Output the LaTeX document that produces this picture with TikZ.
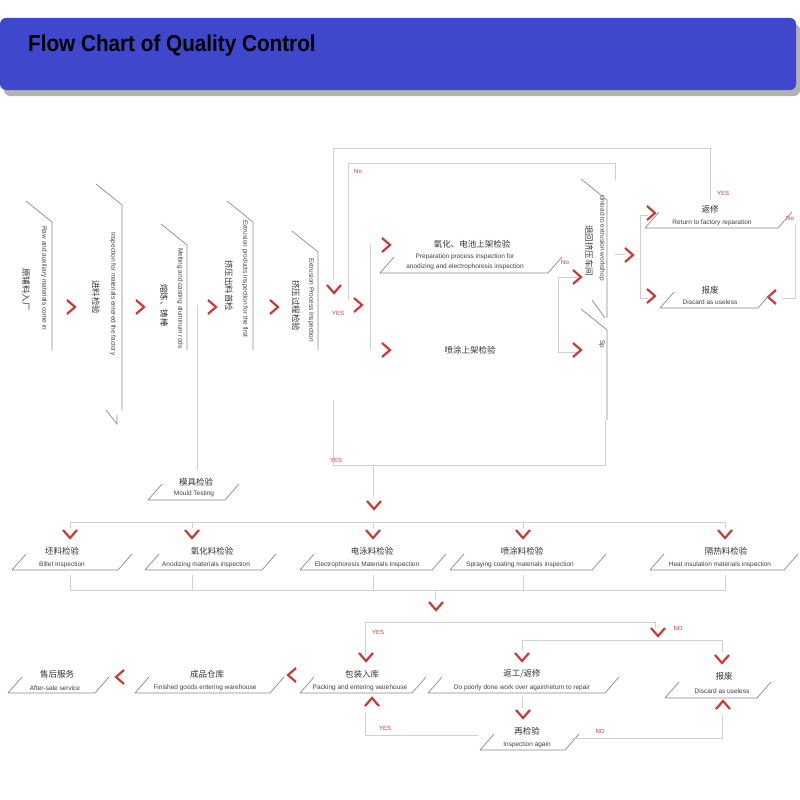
\documentclass[tikz,border=0pt]{standalone}
\usepackage{fontspec}
\setmainfont{Liberation Sans}
\newfontfamily\cjk{Noto Sans CJK SC}
\definecolor{hdr}{HTML}{3F48CC}
\definecolor{rd}{HTML}{C73B3B}
\definecolor{gl}{HTML}{D0D0D0}
\definecolor{bl}{HTML}{8A8A8A}
\begin{document}
\begin{tikzpicture}[x=1pt,y=-1pt,
  flow/.style={gl,line width=0.8pt},
  edge/.style={bl,line width=0.7pt},
  en/.style={font=\fontsize{6.5}{7}\selectfont,text=black!75,inner sep=0pt},
  cn/.style={font=\cjk\fontsize{8.5}{9}\selectfont,text=black!80,inner sep=0pt},
  lab/.style={font=\fontsize{6}{6}\selectfont,text=rd,inner sep=0pt},
  chev/.style={rd,line width=2.2pt}]
\newcommand{\cR}[2]{\draw[chev] (#1-4,#2-7) -- (#1+4,#2) -- (#1-4,#2+7);}
\newcommand{\cL}[2]{\draw[chev] (#1+4,#2-7) -- (#1-4,#2) -- (#1+4,#2+7);}
\newcommand{\cD}[2]{\draw[chev] (#1-7,#2-4) -- (#1,#2+4) -- (#1+7,#2-4);}
\newcommand{\cU}[2]{\draw[chev] (#1-7,#2+4) -- (#1,#2-4) -- (#1+7,#2+4);}
\newcommand{\pg}[3]{\draw[edge] (#1,#3) -- (#1+14,#3-16) (#1,#3) -- (#2,#3) -- (#2+14,#3-16);}
\newcommand{\vb}[3]{\draw[edge] (#1-26,#2-21) -- (#1,#2) -- (#1,#3);}
\useasboundingbox (0,0) rectangle (800,800);
\fill[white] (0,0) rectangle (800,800);
% header
\fill[gray!60,rounded corners=6pt] (4,24) rectangle (800,96);
\fill[hdr,rounded corners=6pt] (0,18) rectangle (796,90);
\node[anchor=west,font=\bfseries\fontsize{23}{24}\selectfont,inner sep=0pt,xscale=0.9] (title) at (28,46) {Flow Chart of Quality Control};
% vertical boxes
\vb{52}{222}{350}
\node[en,rotate=-90,anchor=west] (v1e) at (44,226) {Raw and auxiliary materials come in};
\node[cn,rotate=-90,anchor=west] (v1c) at (26,268) {原辅料入厂};
\vb{122}{205}{410}\draw[edge] (106,410) -- (117,424) -- (117,415);
\node[en,rotate=-90,anchor=west] (v2e) at (113,232) {Inspection for materials entered the factory};
\node[cn,rotate=-90,anchor=west] (v2c) at (96,280) {进料检验};
\vb{187}{245}{350}
\node[en,rotate=-90,anchor=west] (v3e) at (180,248) {Melting and casting aluminum rods};
\node[cn,rotate=-90,anchor=west] (v3c) at (164,284) {熔炼、铸棒};
\vb{253}{222}{350}
\node[en,rotate=-90,anchor=west] (v4e) at (245,220) {Extrusion products inspection for the first};
\node[cn,rotate=-90,anchor=west] (v4c) at (229,260) {挤压出料首检};
\vb{318}{252}{350}
\node[en,rotate=-90,anchor=west] (v5e) at (311,258) {Extrusion Process Inspection};
\node[cn,rotate=-90,anchor=west] (v5c) at (296,280) {挤压过程检验};
\cR{71}{307}\cR{140}{307}\cR{212}{307}\cR{274}{307}
% mould
\draw[flow] (197,305) -- (197,470);
\node[cn] (mc) at (196,482) {模具检验};
\node[en] (me) at (194,494) {Mould Testing};
\pg{148}{225}{500}
% loops
\draw[flow] (333,280) -- (333,148) -- (710,148) -- (710,200);
\draw[flow] (348,300) -- (348,163) -- (615,163) -- (615,180);
\node[lab] (no1) at (358,171) {No};
\node[lab] (yes1) at (723,193) {YES};
\cD{334}{289}\node[lab] (yes2) at (338,313) {YES};\cR{358}{305}
\draw[flow] (370,245) -- (370,350);
\cR{386}{245}\cR{386}{350}
\node[cn] (pc) at (472,244) {氧化、电池上架检验};
\node[en] (pe1) at (465,257) {Preparation process inspection for};
\node[en] (pe2) at (465,267) {anodizing and electrophoresis inspection};
\pg{380}{548}{273}
\node[cn] (sc) at (470,350) {喷涂上架检验};
\node[lab] (no2) at (565,262) {No};
\draw[flow] (558,277) -- (578,277) (558,277) -- (558,352) -- (578,352);
\cR{577}{277}\cR{577}{350}
\vb{607}{200}{318}\draw[edge] (592,300) -- (605,318);
\node[en,rotate=-90,anchor=west] (v6e) at (602,195) {Unload to extrusion workshop};
\node[cn,rotate=-90,anchor=west] (v6c) at (589,225) {退回挤压车间};
\vb{607}{330}{420}
\node[en,rotate=-90,anchor=west] (v7e) at (602,340) {Sp};
\draw[flow] (333,400) -- (333,465) -- (605,465) -- (605,420);
\node[lab] (yes3) at (336,460) {YES};
\draw[flow] (373,465) -- (373,497);
\cD{374}{505}
% right part
\draw[flow] (615,254) -- (625,254);
\cR{629}{255}
\draw[flow] (640,215) -- (640,298) (640,215) -- (648,215) (640,298) -- (648,298);
\cR{651}{213}\cR{651}{296}
\node[cn] (rc) at (710,209) {返修};
\node[en] (re) at (712,223) {Return to factory reparation};
\pg{645}{778}{228}
\node[lab] (no3) at (790,218) {No};
\draw[flow] (795,225) -- (795,298) -- (782,298);
\cL{772}{297}
\node[cn] (dc) at (710,290) {报废};
\node[en] (de) at (710,302) {Discard as useless};
\pg{660}{758}{308}
% row 2
\draw[flow] (70,522) -- (725,522);
\foreach \x in {70,192,373,523,725}{\draw[flow] (\x,522) -- (\x,528);}
\foreach \x in {70,192,373,523,725}{\cD{\x}{534}}
\node[cn] (b1c) at (62,551) {坯料检验};\node[en] (b1e) at (62,565) {Billet Inspection};\pg{12}{118}{570}
\node[cn] (b2c) at (212,551) {氧化料检验};\node[en] (b2e) at (206,565) {Anodizing materials inspection};\pg{145}{262}{570}
\node[cn] (b3c) at (372,551) {电泳料检验};\node[en] (b3e) at (367,565) {Electrophoresis Materials Inspection};\pg{300}{432}{570}
\node[cn] (b4c) at (522,551) {喷涂料检验};\node[en] (b4e) at (520,565) {Spraying coating materials inspection};\pg{450}{592}{570}
\node[cn] (b5c) at (726,551) {隔热料检验};\node[en] (b5e) at (720,565) {Heat insulation materials inspection};\pg{650}{784}{570}
\draw[flow] (70,575) -- (70,590) -- (725,590) -- (725,575);
\foreach \x in {192,373,523}{\draw[flow] (\x,575) -- (\x,590);}
\draw[flow] (435,590) -- (435,600);
\cD{436}{606}
% row 3
\draw[flow] (365,655) -- (365,622) -- (655,622) -- (655,628);
\node[lab] (yes4) at (378,632) {YES};
\cD{366}{657}
\cD{658}{632}\node[lab] (no4) at (678,628) {NO};
\draw[flow] (522,650) -- (522,640) -- (722,640) -- (722,652);
\cD{522}{657}\cD{722}{659}
\node[cn] (s1c) at (57,674) {售后服务};\node[en] (s1e) at (55,688) {After-sale service};\pg{8}{95}{693}
\cL{120}{677}
\node[cn] (s2c) at (207,674) {成品仓库};\node[en] (s2e) at (205,688) {Finished goods entering warehouse};\pg{135}{270}{693}
\cL{292}{675}
\node[cn] (s3c) at (362,674) {包装入库};\node[en] (s3e) at (360,688) {Packing and entering warehouse};\pg{300}{412}{693}
\node[cn] (s4c) at (522,674) {返工/返修};\node[en] (s4e) at (522,688) {Do poorly done work over again/return to repair};\pg{428}{605}{693}
\node[cn] (s5c) at (724,676) {报废};\node[en] (s5e) at (722,691) {Discard as useless};\pg{665}{757}{698}
% row 4
\cU{372}{702}\cU{723}{705}
\draw[flow] (522,697) -- (522,708);
\cD{523}{714}
\node[cn] (ic) at (527,731) {再检验};\node[en] (ie) at (527,745) {Inspection again};\pg{480}{565}{750}
\draw[flow] (478,735) -- (365,735) -- (365,712);
\node[lab] (yes5) at (385,728) {YES};
\draw[flow] (572,738) -- (722,738) -- (722,715);
\node[lab] (no5) at (600,731) {NO};
\end{tikzpicture}
\end{document}
